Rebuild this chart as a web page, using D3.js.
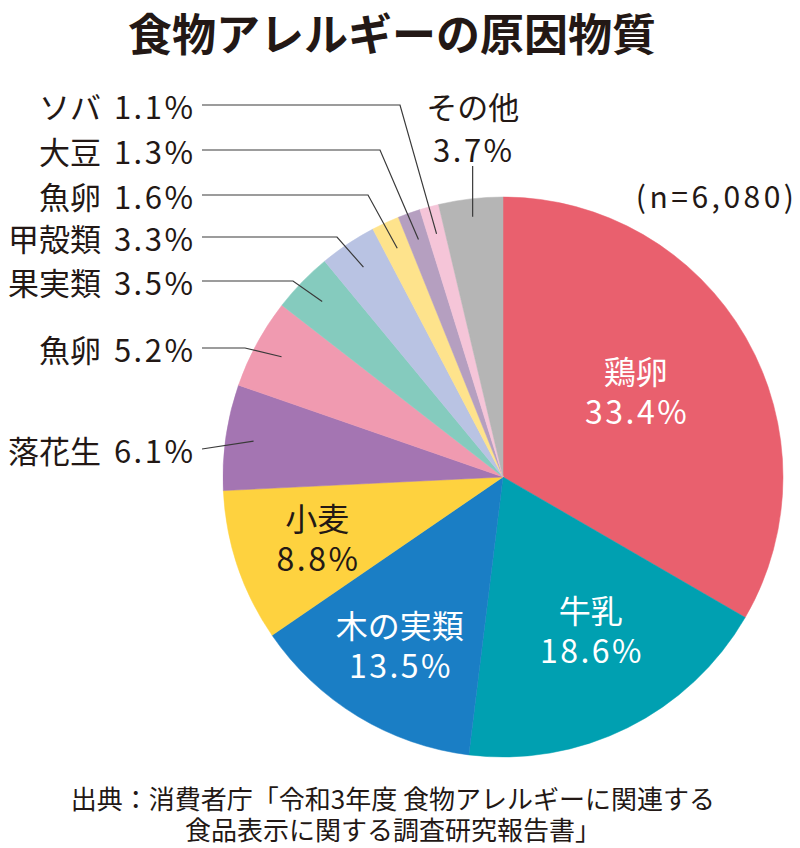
<!DOCTYPE html>
<html lang="ja">
<head>
<meta charset="utf-8">
<script src="https://cdn.jsdelivr.net/npm/d3@7"></script>
<style>
  html, body { margin: 0; padding: 0; background: #fff; }
  svg { display: block; }
  text { font-family: "Noto Sans CJK JP", "Noto Sans", sans-serif; }
</style>
</head>
<body>
<svg id="chart" width="800" height="848"></svg>
<script>
// ---- data ----
const categories = ["鶏卵", "牛乳", "木の実類", "小麦", "落花生", "魚卵", "果実類", "甲殻類", "魚卵", "大豆", "ソバ", "その他"];
const values = [33.4, 18.6, 13.5, 8.8, 6.1, 5.2, 3.5, 3.3, 1.6, 1.3, 1.1, 3.7];
const colors = ["#E9606E", "#00A0B1", "#1A7EC5", "#FED23F", "#A475B2", "#F09AB0",
                "#85CBBE", "#B9C3E3", "#FEE38C", "#B59FC0", "#F5C5D8", "#B5B5B5"];
const title = "食物アレルギーの原因物質";
const sampleNote = "(n=6,080)";
const sourceLines = ["出典：消費者庁「令和3年度 食物アレルギーに関連する", "食品表示に関する調査研究報告書」"];

// ---- layout (not data) ----
const W = 800, H = 848;
const cx = 503, cy = 477, R = 280;
const ink = "#231815";
const LS = 2.5; // letter spacing for numerals
// inside labels: slice index, radius factor, nudge, text colour
const insideLabels = [
  { i: 0, rf: 0.56, dx: -3, dy: -9, fill: "#fff" },
  { i: 1, rf: 0.64, dx: 8,  dy: -8, fill: "#fff" },
  { i: 2, rf: 0.71, dx: 0,  dy: -3, fill: "#fff" },
  { i: 3, rf: 0.70, dx: 0,  dy: -3, fill: ink }
];
// outside left labels: slice index, label y, elbow x
const leftLabels = [
  { i: 10, y: 105, ex: 400 },
  { i: 9,  y: 150, ex: 380 },
  { i: 8,  y: 195, ex: 368 },
  { i: 7,  y: 237, ex: 337 },
  { i: 6,  y: 281, ex: 293 },
  { i: 5,  y: 348, ex: 245 },
  { i: 4,  y: 449, ex: 202 }
];

const svg = d3.select("#chart");
const fmt = v => d3.format(".1f")(v) + "%";

const pie = d3.pie().sort(null).value(d => d).startAngle(0).endAngle(2 * Math.PI);
const arcs = pie(values);
const arc = d3.arc().innerRadius(0).outerRadius(R);

const g = svg.append("g").attr("transform", `translate(${cx},${cy})`);
g.selectAll("path.slice")
  .data(arcs)
  .join("path")
  .attr("class", "slice")
  .attr("d", arc)
  .attr("fill", (d, i) => colors[i])
  .attr("stroke", (d, i) => colors[i])
  .attr("stroke-width", 0.5);

// title
svg.append("text")
  .attr("x", 392).attr("y", 32)
  .attr("text-anchor", "middle").attr("dominant-baseline", "central")
  .attr("font-size", 44).attr("font-weight", 700).attr("fill", ink)
  .text(title);

// sample size
svg.append("text")
  .attr("x", 794 + 3.5).attr("y", 195)
  .attr("text-anchor", "end").attr("dominant-baseline", "central")
  .attr("font-size", 30).attr("fill", ink)
  .attr("letter-spacing", 3.5)
  .text(sampleNote);

// inside labels
insideLabels.forEach(L => {
  const a = arcs[L.i];
  const c = d3.arc().innerRadius(R * L.rf).outerRadius(R * L.rf).centroid(a);
  const x = c[0] + L.dx, y = c[1] + L.dy;
  g.append("text")
    .attr("x", x).attr("y", y - 20)
    .attr("text-anchor", "middle").attr("dominant-baseline", "central")
    .attr("font-size", 32).attr("fill", L.fill)
    .text(categories[L.i]);
  g.append("text")
    .attr("x", x + LS / 2).attr("y", y + 20)
    .attr("text-anchor", "middle").attr("dominant-baseline", "central")
    .attr("font-size", 32).attr("fill", L.fill)
    .attr("letter-spacing", LS)
    .text(fmt(values[L.i]));
});

// leader lines + left labels
const leadArc = d3.arc().innerRadius(252).outerRadius(252);
leftLabels.forEach(L => {
  const p = leadArc.centroid(arcs[L.i]);
  const px = cx + p[0], py = cy + p[1];
  svg.append("path")
    .attr("d", `M202,${L.y}H${L.ex}L${px},${py}`)
    .attr("fill", "none").attr("stroke", "#3a3a3a").attr("stroke-width", 1.2);
  const t = svg.append("text")
    .attr("x", 193 + LS).attr("y", L.y)
    .attr("text-anchor", "end").attr("dominant-baseline", "central")
    .attr("font-size", 31).attr("fill", ink);
  t.append("tspan").text(categories[L.i]);
  t.append("tspan").attr("dx", 13).attr("letter-spacing", LS).text(fmt(values[L.i]));
});

// その他 label (top)
{
  const i = 11;
  const p = d3.arc().innerRadius(262).outerRadius(262).centroid(arcs[i]);
  const px = cx + p[0], py = cy + p[1];
  svg.append("line")
    .attr("x1", px).attr("x2", px).attr("y1", 166).attr("y2", py)
    .attr("stroke", "#3a3a3a").attr("stroke-width", 1.2);
  svg.append("text").attr("text-anchor", "middle").attr("dominant-baseline", "central")
    .attr("font-size", 31).attr("fill", ink)
    .attr("x", px).attr("y", 105).text(categories[i]);
  svg.append("text").attr("text-anchor", "middle").attr("dominant-baseline", "central")
    .attr("font-size", 31).attr("fill", ink).attr("letter-spacing", LS)
    .attr("x", px + LS / 2).attr("y", 148).text(fmt(values[i]));
}

// source
sourceLines.forEach((s, k) => {
  svg.append("text")
    .attr("x", 393).attr("y", 797 + k * 31)
    .attr("text-anchor", "middle").attr("dominant-baseline", "central")
    .attr("font-size", 26).attr("fill", ink)
    .text(s);
});
</script>
</body>
</html>
